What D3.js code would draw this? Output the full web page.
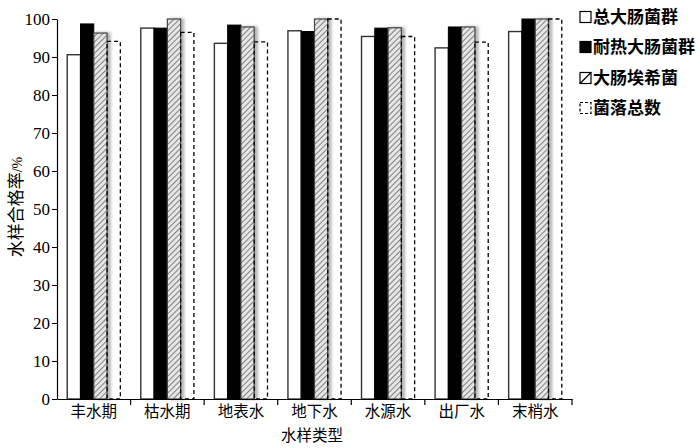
<!DOCTYPE html>
<html><head><meta charset="utf-8">
<script src="https://cdn.jsdelivr.net/npm/d3@7"></script>
<style>body{margin:0;background:#fff}svg{display:block}</style>
</head><body>
<script>
const categories = ["丰水期","枯水期","地表水","地下水","水源水","出厂水","末梢水"];
const seriesNames = ["总大肠菌群","耐热大肠菌群","大肠埃希菌","菌落总数"];
const totalColiform = [90.6, 97.6, 93.6, 96.9, 95.4, 92.4, 96.7];
const thermoColiform = [98.7, 97.6, 98.4, 96.7, 97.6, 97.9, 100];
const ecoli = [96.3, 100, 97.9, 100, 97.7, 97.9, 100];
const colonyCount = [94.1, 96.5, 94.0, 100, 95.4, 93.9, 100];
const yTicks = [0,10,20,30,40,50,60,70,80,90,100];
const seriesValues = [totalColiform, thermoColiform, ecoli, colonyCount];

const W = 700, H = 448;
const svg = d3.select("body").append("svg").attr("width", W).attr("height", H);
const defs = svg.append("defs");
const pat = defs.append("pattern").attr("id","hatch").attr("patternUnits","userSpaceOnUse")
  .attr("width",4).attr("height",4).attr("patternTransform","rotate(45)");
pat.append("rect").attr("width",4).attr("height",4).attr("fill","#e6e6e6");
pat.append("line").attr("x1",0).attr("y1",0).attr("x2",0).attr("y2",4).attr("stroke","#555").attr("stroke-width",1.4);
const f = defs.append("filter").attr("id","shadow").attr("x","-20%").attr("y","-5%").attr("width","160%").attr("height","110%");
f.append("feDropShadow").attr("dx",3).attr("dy",0).attr("stdDeviation",1.6).attr("flood-color","#000").attr("flood-opacity",0.3);

const x0 = d3.scaleBand().domain(categories).range([57, 572]).paddingInner(0).paddingOuter(0);
const x1 = d3.scaleBand().domain(seriesNames).range([0, x0.bandwidth()]).paddingInner(0).paddingOuter(0.77);
const y = d3.scaleLinear().domain([0,100]).range([399, 19]);

const styles = [
  {fill:"#fff", stroke:"#333", sw:1.4, dash:null, filter:null},
  {fill:"#000", stroke:"#000", sw:1, dash:null, filter:null},
  {fill:"url(#hatch)", stroke:"#444", sw:1.2, dash:null, filter:"url(#shadow)"},
  {fill:"none", stroke:"#000", sw:1.3, dash:"4,3", filter:null}
];

const g = svg.append("g");
seriesNames.forEach((s, si) => {
  const st = styles[si];
  g.selectAll(null).data(categories).enter().append("rect")
    .attr("x", c => x0(c) + x1(s))
    .attr("y", (c,i) => y(seriesValues[si][i]))
    .attr("width", x1.bandwidth())
    .attr("height", (c,i) => y(0) - y(seriesValues[si][i]))
    .attr("fill", st.fill).attr("stroke", st.stroke).attr("stroke-width", st.sw)
    .attr("stroke-dasharray", st.dash).attr("filter", st.filter);
});

// y axis
const yAxis = svg.append("g").attr("transform","translate(57,0)")
  .call(d3.axisLeft(y).tickValues(yTicks).tickSize(5).tickSizeOuter(0));
yAxis.select(".domain").attr("stroke","#000").attr("stroke-width",1.2);
yAxis.selectAll(".tick line").attr("stroke","#000");
yAxis.selectAll("text").attr("font-family","'Liberation Serif', serif").attr("font-size",17).attr("fill","#000").attr("x",-7);

// x axis
const xAxis = svg.append("g").attr("transform","translate(0,399)")
  .call(d3.axisBottom(x0).tickSize(0).tickSizeOuter(0));
xAxis.select(".domain").attr("stroke","#000").attr("stroke-width",1.2);
xAxis.selectAll("text").attr("font-family","'Noto Sans CJK SC', sans-serif").attr("font-size",15.5).attr("fill","#000").attr("dy","0.85em").attr("y",5);
// boundary ticks
svg.append("g").selectAll("line").data(categories).enter().append("line")
  .attr("x1", c => x0(c) + x0.bandwidth()).attr("x2", c => x0(c) + x0.bandwidth())
  .attr("y1", 399).attr("y2", 405).attr("stroke","#000").attr("stroke-width",1.2);

// axis titles
svg.append("text").attr("x", 312).attr("y", 441).attr("text-anchor","middle")
  .attr("font-family","'Noto Sans CJK SC', sans-serif").attr("font-size",15.5).text("水样类型");
const yt = svg.append("text").attr("transform","translate(22,207) rotate(-90)").attr("text-anchor","middle")
  .attr("font-family","'Noto Sans CJK SC', sans-serif").attr("font-size",17);
yt.append("tspan").text("水样合格率");
yt.append("tspan").attr("font-family","'Liberation Serif', serif").attr("font-size",14).text("/%");

// legend
const legY = [17, 47, 78, 108];
const lg = svg.append("g");
seriesNames.forEach((s, i) => {
  const st = styles[i];
  lg.append("rect").attr("x", 580).attr("y", legY[i]-5.5).attr("width", 11).attr("height", 11)
    .attr("fill", i===2 ? "#fff" : (st.fill === "none" ? "#fff" : st.fill))
    .attr("stroke", "#000").attr("stroke-width", 1.2).attr("stroke-dasharray", st.dash ? "3,2" : null);
  if (i === 2) lg.append("line").attr("x1",580).attr("y1",legY[i]+5.5).attr("x2",591).attr("y2",legY[i]-5.5).attr("stroke","#000").attr("stroke-width",1.2);
  lg.append("text").attr("x", 593).attr("y", legY[i]).attr("dy","0.35em")
    .attr("font-family","'Noto Sans CJK SC', sans-serif").attr("font-weight","bold").attr("font-size",17).text(s);
});
</script>
</body></html>
